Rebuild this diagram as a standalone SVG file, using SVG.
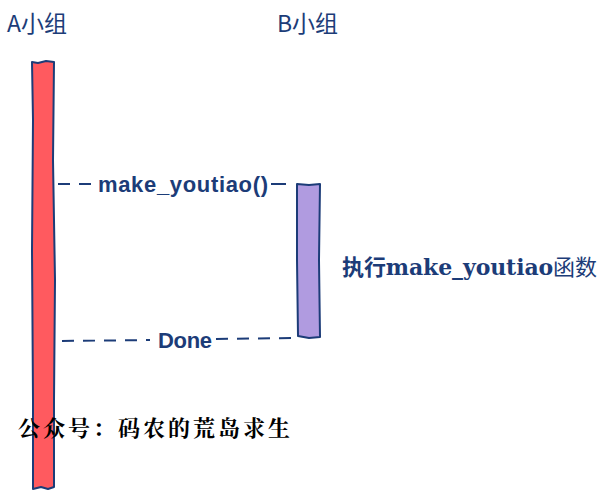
<svg xmlns="http://www.w3.org/2000/svg" width="604" height="502" viewBox="0 0 604 502">
<style>
.lbl{font-family:"Noto Sans CJK SC","Liberation Sans",sans-serif;font-size:23px;fill:#1c3c78}
.msg{font-family:"Liberation Sans","DejaVu Sans",sans-serif;font-weight:bold;font-size:22px;fill:#1c3c78}
.bar{stroke:#1c3c78;stroke-width:2;stroke-linejoin:round}
.dash{stroke:#1c3c78;stroke-width:2;stroke-dasharray:12 9;fill:none}
</style>
<rect width="604" height="502" fill="#ffffff"/>
<g id="groupA">
<text class="lbl" x="7" y="32">A小组</text>
<path class="bar" fill="#ff5a5f" d="M32,62 L38,63 L46,61 L54,62 L53,160 L55,280 L54,400 L54,487 L48,489 L41,487 L33,489 L33,400 L32,250 L33,120 Z"/>
</g>
<g id="groupB">
<text class="lbl" x="277" y="32">B小组</text>
<path class="bar" fill="#b09be0" d="M297,184 L309,185 L320,184 L319,260 L320,337 L309,338 L298,336 L297,260 Z"/>
</g>
<g id="connectors">
<line class="dash" x1="58" y1="184" x2="96" y2="184"/>
<line x1="271" y1="184" x2="286" y2="184" stroke="#1c3c78" stroke-width="2"/>
<line class="dash" x1="62" y1="341" x2="150" y2="340"/>
<line class="dash" x1="216" y1="339" x2="296" y2="338"/>
<text class="msg" x="183" y="192" text-anchor="middle" textLength="170">make_youtiao()</text>
<text class="msg" x="185" y="348" text-anchor="middle" textLength="54">Done</text>
</g>
<text x="342" y="275" textLength="255" style="font-family:'DejaVu Serif','Noto Sans CJK SC',serif;font-size:22px;font-weight:bold;fill:#1c3c78">执行make_youtiao<tspan style="font-family:'Noto Sans CJK SC',sans-serif;font-weight:normal">函数</tspan></text>
<text x="18" y="436" textLength="272" style="font-family:'Noto Serif CJK SC','Noto Sans CJK SC',serif;font-size:22px;font-weight:bold;fill:#000">公众号：码农的荒岛求生</text>
</svg>
